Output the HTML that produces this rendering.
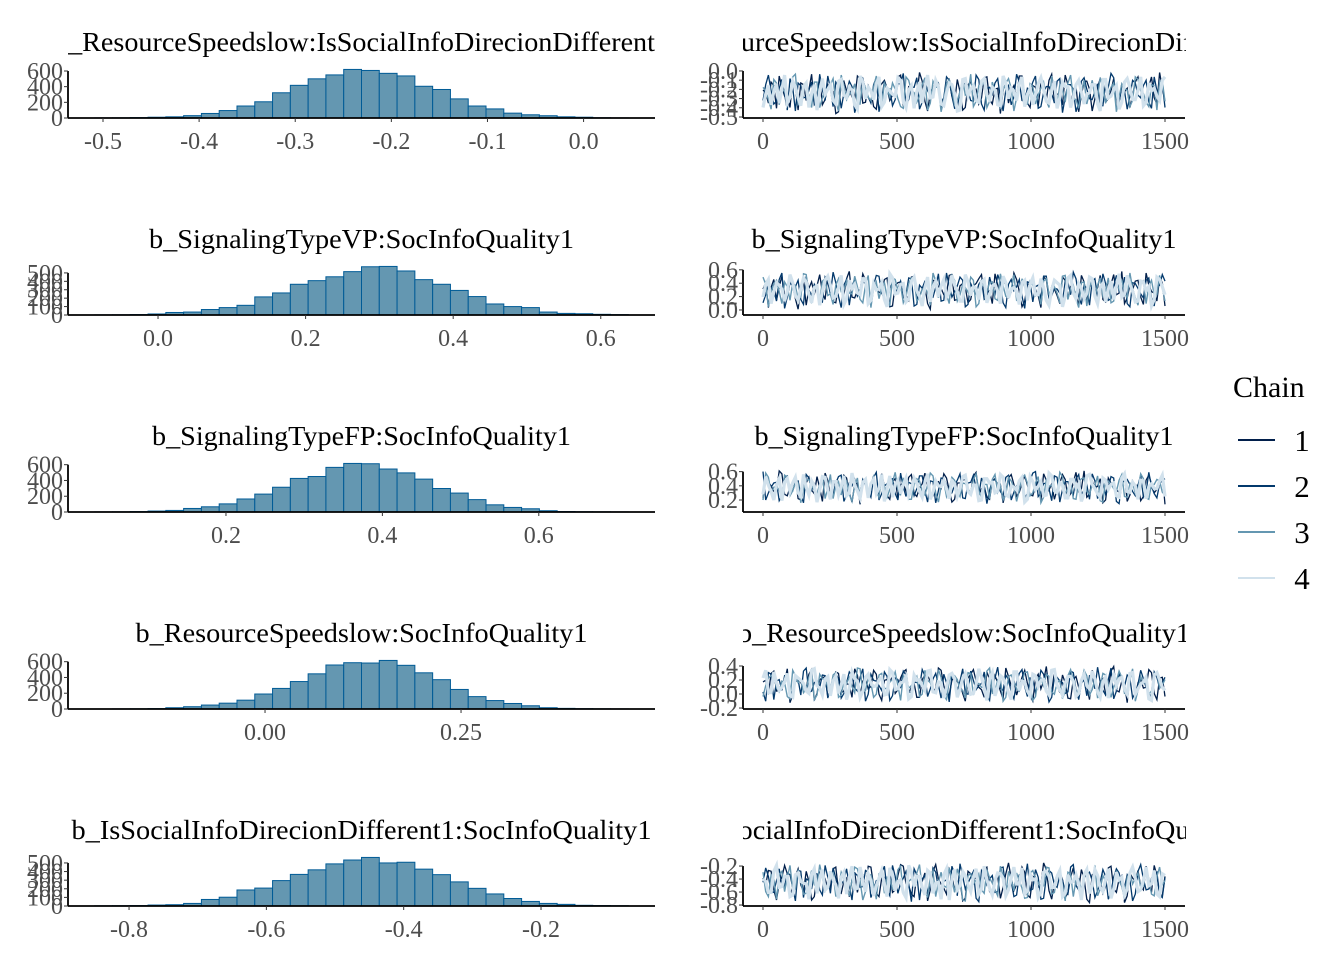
<!DOCTYPE html>
<html><head><meta charset="utf-8">
<style>
html,body{margin:0;padding:0;background:#fff;}
svg{display:block;font-family:"Liberation Serif",serif;}
</style></head>
<body>
<svg id="chart" width="1344" height="960" viewBox="0 0 1344 960">
<defs>
<clipPath id="clipL"><rect x="68" y="0" width="588" height="960"/></clipPath>
<clipPath id="clipR"><rect x="743" y="0" width="443" height="960"/></clipPath>
</defs>
<g id="legend">
<text x="1233" y="397" font-size="30" fill="#000">Chain</text>
</g>
</svg>
<script>
// ---- data ----
const paramNames = [
 "b_ResourceSpeedslow:IsSocialInfoDirecionDifferent1",
 "b_SignalingTypeVP:SocInfoQuality1",
 "b_SignalingTypeFP:SocInfoQuality1",
 "b_ResourceSpeedslow:SocInfoQuality1",
 "b_IsSocialInfoDirecionDifferent1:SocInfoQuality1"
];
const hist1 = [1,2,5,10,15,30,58,95,153,207,322,417,500,550,620,607,570,537,405,364,244,153,116,62,41,29,15,10,3,1];
const hist2 = [1,2,5,12,30,35,65,88,115,215,262,365,408,454,515,573,577,523,420,365,292,219,131,100,88,35,19,15,8,4];
const hist3 = [1,2,5,12,20,45,66,103,165,227,314,426,450,566,616,612,545,496,417,298,240,157,91,58,41,16,6,3,2,1];
const hist4 = [0,1,2,5,16,29,50,74,112,190,261,348,446,558,587,583,616,554,459,372,248,157,107,70,41,16,8,4,2,1];
const hist5 = [2,3,5,11,15,30,76,102,186,208,295,367,420,489,534,564,500,508,428,364,280,205,140,87,53,30,19,8,5,3];
const histXTicks = [[-0.5,-0.4,-0.3,-0.2,-0.1,0.0],[0.0,0.2,0.4,0.6],[0.2,0.4,0.6],[0.00,0.25],[-0.8,-0.6,-0.4,-0.2]];
const histXTickLabels = [["-0.5","-0.4","-0.3","-0.2","-0.1","0.0"],["0.0","0.2","0.4","0.6"],["0.2","0.4","0.6"],["0.00","0.25"],["-0.8","-0.6","-0.4","-0.2"]];
const histXDomain = [[-0.5364,0.0743],[-0.122,0.6735],[-0.002,0.7486],[-0.2513,0.4974],[-0.8889,-0.034]];
const histYTicks = [[0,200,400,600],[0,100,200,300,400,500],[0,200,400,600],[0,200,400,600],[0,100,200,300,400,500]];
const traceYTicks = [[0.0,-0.1,-0.2,-0.3,-0.4,-0.5],[0.0,0.2,0.4,0.6],[0.2,0.4,0.6],[-0.2,0.0,0.2,0.4],[-0.2,-0.4,-0.6,-0.8]];
const traceYTickLabels = [["0.0","-0.1","-0.2","-0.3","-0.4","-0.5"],["0.0","0.2","0.4","0.6"],["0.2","0.4","0.6"],["-0.2","0.0","0.2","0.4"],["-0.2","-0.4","-0.6","-0.8"]];
const traceYDomain = [[-0.511,0.043],[-0.075,0.687],[0.031,0.75],[-0.214,0.514],[-0.815,-0.03]];
const traceMean = [-0.235,0.30,0.38,0.14,-0.45];
const traceSd = [0.095,0.12,0.10,0.11,0.13];
const traceXTicks = [0,500,1000,1500];
const chainLabels = ["1","2","3","4"];
const chain1 = [0.3,-1.2,0.8,1.9,-0.4,-1.7,0.6,1.1,-0.9,2.1,-0.2,-1.4,0.9,0.1,-2.2,1.3,0.4,-0.7,1.6,-1.1,0.2,-1.9,1.0,0.5,-0.3,1.8,-1.5,0.7,-0.6,2.3,-1.0,0.0,1.2,-1.8,0.6,-0.4,1.5,-2.0,0.9,0.3,-1.3,1.7,-0.8,0.4,-2.4,1.1,0.2,-0.5,1.9,-1.2,0.8,-1.6,0.5,1.4,-0.9,-0.1,2.0,-1.4,0.7,-0.3,1.3,-2.1,0.6,1.0,-0.7,1.6,-1.1,0.1,-1.7,1.2,0.4,-0.6,1.8,-1.3,0.5];
const chain2 = [-0.6,1.4,-1.8,0.2,1.1,-0.9,2.0,-1.3,0.5,-0.2,1.6,-2.1,0.8,-0.5,1.2,-1.0,0.3,1.9,-1.6,0.7,-0.1,1.3,-2.3,0.9,0.4,-1.2,1.7,-0.7,0.1,-1.5,1.0,2.2,-0.8,0.6,-1.9,1.4,-0.3,0.8,-1.1,1.8,-0.4,-1.7,0.9,0.2,-1.0,1.5,-2.0,0.6,1.1,-0.6,0.3,-1.4,2.1,-0.9,0.5,1.2,-1.8,0.0,0.7,-1.2,1.6,-0.5,0.9,-2.2,1.3,0.4,-0.8,1.0,-1.5,0.6,1.7,-1.1,0.2,-0.4,1.1];
const chain3 = [1.1,-0.5,0.4,-1.6,1.8,0.2,-1.1,0.9,-2.0,1.3,0.6,-0.8,1.5,-1.4,0.1,-0.3,2.1,-1.0,0.7,-1.7,1.2,-0.6,0.3,1.6,-2.1,0.8,-0.2,1.0,-1.3,0.5,-0.9,1.9,-1.5,0.4,1.1,-0.7,-1.8,1.4,0.0,-0.4,1.7,-1.2,0.6,-2.2,1.0,0.3,-0.9,1.5,-0.1,-1.6,0.8,1.3,-1.0,0.2,-1.9,1.1,0.5,-0.6,1.8,-1.4,0.7,-0.3,1.2,-1.7,0.4,0.9,-1.1,2.0,-0.8,0.1,-1.3,1.4,-0.5,0.6,-0.2];
const chain4 = [-0.2,0.9,-1.3,1.5,-0.6,0.3,-1.9,1.2,0.6,-0.8,1.8,-1.1,0.2,-0.4,1.4,-1.7,0.8,0.1,-1.2,2.0,-0.5,0.7,-1.5,1.1,-0.1,-2.0,1.6,0.4,-0.9,1.3,-0.3,0.6,-1.4,1.9,-0.7,0.2,1.0,-1.6,0.5,-0.2,1.7,-1.0,0.3,-1.8,1.2,0.7,-0.6,1.4,-1.3,0.0,0.9,-2.1,1.5,-0.4,0.8,-1.1,1.6,-0.8,0.3,-1.5,1.1,0.5,-0.9,1.8,-0.2,-1.4,1.0,0.4,-1.2,1.3,-0.6,0.7,-1.7,0.9,0.1];

// ---- layout ----
const NS = "http://www.w3.org/2000/svg";
const svg = document.getElementById('chart');
const hists = [hist1,hist2,hist3,hist4,hist5];
const chains = [chain1,chain2,chain3,chain4];
const chainColors = ["#011f4b","#03396c","#6497b1","#d1e1ec"];
const chainWidths = [1.3,1.3,1.4,3.2];
const titleLen = [615,425,419,452,580];
const L = {x0:68,x1:655,tx0:743,tx1:1185,px0:763,px1:1165,h:51};
function mk(tag, attrs, parent){const e=document.createElementNS(NS,tag);for(const k in attrs)e.setAttribute(k,attrs[k]);(parent||svg).appendChild(e);return e;}

for(let p=0;p<5;p++){
  const base = 118 + 197*p;
  // ---------- histogram ----------
  const g = mk('g',{});
  
  
  const dom = histXDomain[p];
  const sx = v => L.x0 + (v-dom[0])/(dom[1]-dom[0])*(L.x1-L.x0);
  const counts = hists[p];
  const n = counts.length;
  const bw = (dom[1]-dom[0])/1.1/n;
  const bstart = dom[0] + (dom[1]-dom[0])*0.05/1.1;
  const maxc = Math.max(...counts);
  const sy = c => base - c/(maxc*1.05)*L.h;
  const tt = mk('text',{x:(L.x0+L.x1)/2,y:base-67,'font-size':27,'text-anchor':'middle',fill:'#000','clip-path':'url(#clipL)',textLength:titleLen[p],lengthAdjust:'spacingAndGlyphs'},g);
  
  
  tt.textContent = paramNames[p];
  for(let i=0;i<n;i++){
    const xa = sx(bstart+i*bw), xb = sx(bstart+(i+1)*bw);
    const r = mk('rect',{x:xa,y:sy(counts[i]),width:xb-xa,height:base-sy(counts[i]),fill:'#6497b1',stroke:'#005b96','stroke-width':1},g);
    
    
  }
  const xa = mk('line',{x1:L.x0,x2:L.x1,y1:base,y2:base,stroke:'#000','stroke-width':1.8},g);
  
  
  const yTicks = histYTicks[p];
  const ya = mk('line',{x1:L.x0,x2:L.x0,y1:sy(yTicks[yTicks.length-1]),y2:base,stroke:'#000','stroke-width':1.8},g);
  
  
  yTicks.forEach(v=>{
    mk('line',{x1:L.x0-4,x2:L.x0,y1:sy(v),y2:sy(v),stroke:'#333','stroke-width':1},g);
    const t = mk('text',{x:L.x0-5,y:sy(v)+8,'font-size':24,'text-anchor':'end',fill:'#4d4d4d'},g);
    
    
    t.textContent = String(v);
  });
  histXTicks[p].forEach((v,i)=>{
    mk('line',{x1:sx(v),x2:sx(v),y1:base,y2:base+4,stroke:'#333','stroke-width':1},g);
    const t = mk('text',{x:sx(v),y:base+31,'font-size':24,'text-anchor':'middle',fill:'#4d4d4d'},g);
    
    
    t.textContent = histXTickLabels[p][i];
  });

  // ---------- trace ----------
  const tg = mk('g',{});
  
  
  const td = traceYDomain[p];
  const ty = v => base - (v-td[0])/(td[1]-td[0])*L.h;
  const tx = it => L.px0 + it/1500*(L.px1-L.px0);
  const t2 = mk('text',{x:(L.tx0+L.tx1)/2,y:base-67,'font-size':27,'text-anchor':'middle',fill:'#000','clip-path':'url(#clipR)',textLength:titleLen[p],lengthAdjust:'spacingAndGlyphs'},tg);
  
  
  t2.textContent = paramNames[p];
  chains.forEach((arr,c)=>{
    const m = arr.length;
    const shiftA = (p*13 + c*5) % m;
    const shiftB = (p*7 + c*11 + 31) % m;
    const tot = 2*m;
    let d='';
    for(let k=0;k<tot;k++){
      const z = (k%2===0) ? arr[((k>>1)+shiftA)%m] : arr[((k>>1)+shiftB)%m];
      const v = traceMean[p] + traceSd[p]*z;
      d += (k?'L':'M') + tx(k*1500/(tot-1)).toFixed(1)+','+ty(v).toFixed(1);
    }
    const path = mk('path',{d:d,fill:'none',stroke:chainColors[c],'stroke-width':chainWidths[c]},tg);
    
    
  });
  const txa = mk('line',{x1:L.tx0,x2:L.tx1,y1:base,y2:base,stroke:'#000','stroke-width':1.8},tg);
  
  
  const tyt = traceYTicks[p];
  const tyTop = Math.min(...tyt.map(ty));
  const tya = mk('line',{x1:L.tx0,x2:L.tx0,y1:tyTop,y2:base,stroke:'#000','stroke-width':1.8},tg);
  
  
  tyt.forEach((v,i)=>{
    mk('line',{x1:L.tx0-4,x2:L.tx0,y1:ty(v),y2:ty(v),stroke:'#333','stroke-width':1},tg);
    const t = mk('text',{x:L.tx0-5,y:ty(v)+8,'font-size':24,'text-anchor':'end',fill:'#4d4d4d'},tg);
    
    
    t.textContent = traceYTickLabels[p][i];
  });
  traceXTicks.forEach(v=>{
    mk('line',{x1:tx(v),x2:tx(v),y1:base,y2:base+4,stroke:'#333','stroke-width':1},tg);
    const t = mk('text',{x:tx(v),y:base+31,'font-size':24,'text-anchor':'middle',fill:'#4d4d4d'},tg);
    
    
    t.textContent = String(v);
  });
}

// ---------- legend ----------
const lg = document.getElementById('legend');
chainLabels.forEach((lab,i)=>{
  const y = 440 + 46*i;
  const ln = mk('line',{x1:1238,x2:1275,y1:y,y2:y,stroke:chainColors[i],'stroke-width':2},lg);
  
  
  const t = mk('text',{x:1302,y:y+11,'font-size':31,'text-anchor':'middle',fill:'#000'},lg);
  
  
  t.textContent = lab;
});
</script>
</body></html>
